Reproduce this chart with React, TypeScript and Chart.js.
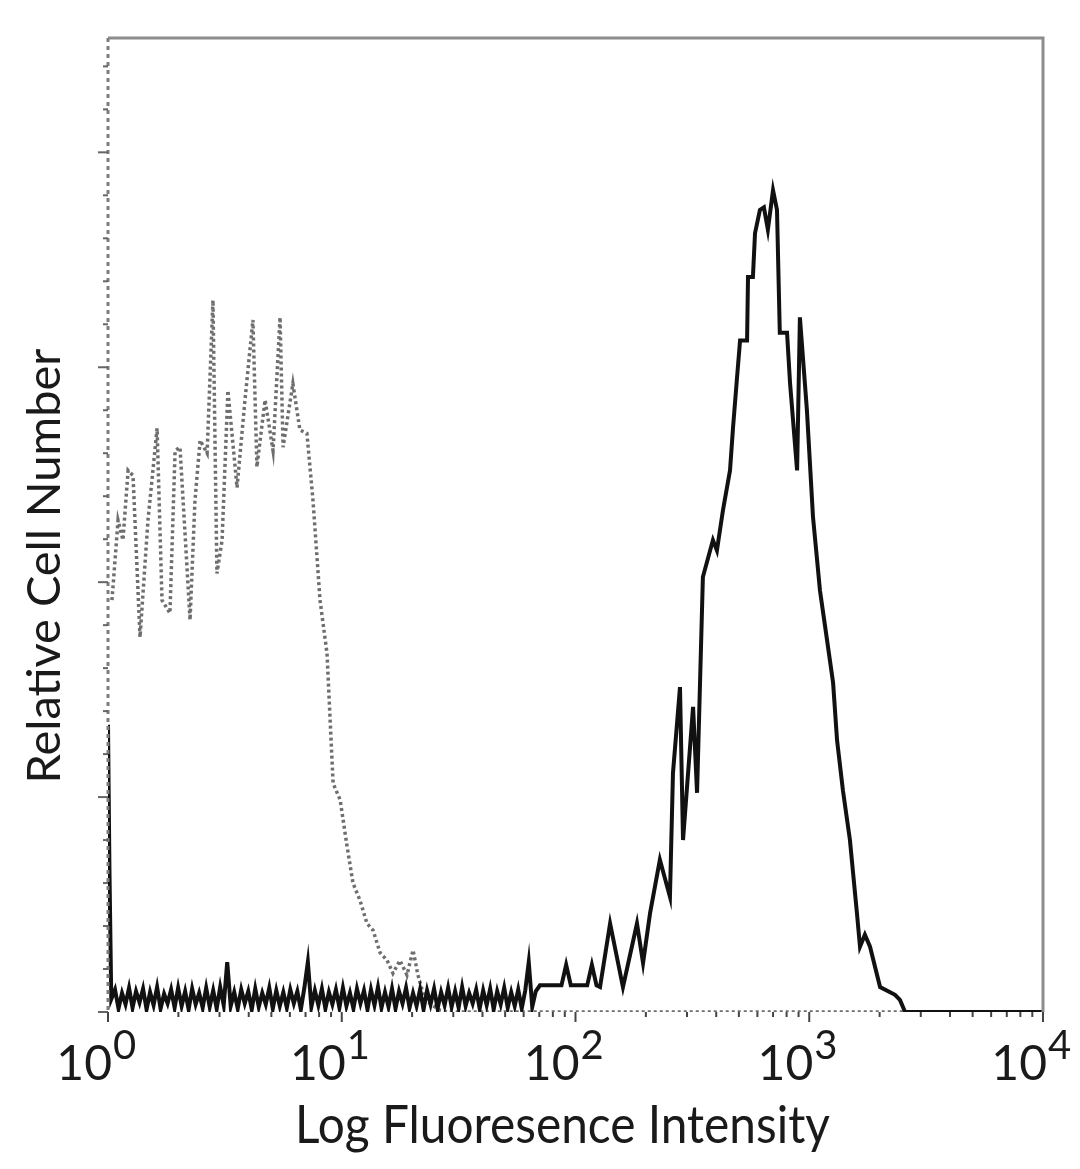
import React, { useEffect, useRef } from "react";
import { Chart, registerables } from "chart.js";

Chart.register(...registerables);

// Stained sample histogram (solid black): x in decades (log10 of intensity), y = cell count
const stainedDecades = [
  0, 0.006, 0.014,
  0.03, 0.045, 0.06, 0.075, 0.09, 0.105, 0.12, 0.135, 0.15, 0.165,
  0.18, 0.195, 0.21, 0.225, 0.24, 0.255, 0.27, 0.285, 0.3, 0.315,
  0.33, 0.345, 0.36, 0.375, 0.39, 0.405, 0.42, 0.435, 0.45, 0.465,
  0.48, 0.495, 0.51, 0.525, 0.54, 0.555, 0.57, 0.585, 0.6, 0.615,
  0.63, 0.645, 0.66, 0.675, 0.69, 0.705, 0.72, 0.735, 0.75, 0.765,
  0.78, 0.795, 0.81, 0.825, 0.84, 0.855, 0.87, 0.885, 0.9, 0.915,
  0.93, 0.945, 0.96, 0.975, 0.99, 1.005, 1.02, 1.035, 1.05, 1.065,
  1.08, 1.095, 1.11, 1.125, 1.14, 1.155, 1.17, 1.185, 1.2, 1.215,
  1.23, 1.245, 1.26, 1.275, 1.29, 1.305, 1.32, 1.335, 1.35, 1.365,
  1.38, 1.395, 1.41, 1.425, 1.44, 1.455, 1.47, 1.485, 1.5, 1.515,
  1.53, 1.545, 1.56, 1.575, 1.59, 1.605, 1.62, 1.635, 1.65, 1.665,
  1.68, 1.695, 1.71, 1.725, 1.74, 1.755, 1.77, 1.785, 1.8, 1.815,
  1.83,
  1.848, 1.94, 1.96, 1.98, 2.05, 2.07, 2.09, 2.105, 2.148, 2.203,
  2.263, 2.289, 2.319, 2.361, 2.404, 2.417, 2.447, 2.46, 2.503, 2.52, 2.545, 2.588, 2.605,
  2.631, 2.661, 2.674, 2.691, 2.704, 2.734, 2.738, 2.759, 2.768, 2.789, 2.806, 2.823, 2.845,
  2.862, 2.874, 2.905, 2.918, 2.948, 2.96, 2.99, 3.016, 3.046, 3.067, 3.102, 3.119, 3.144,
  3.174, 3.204, 3.217, 3.238, 3.26, 3.303, 3.367, 3.388, 3.41, 4.0,
];
const stainedCounts = [
  33.4, 16.9, 1.5,
  2.6, 0.4, 2.2, 0.9, 2.8, 0.5, 2.4, 1.1, 2.7, 0.3,
  2.3, 0.8, 2.9, 0.4, 2.1, 1.0, 2.6, 0.5, 2.8, 0.7,
  2.4, 0.3, 2.7, 0.9, 2.2, 0.5, 2.8, 0.6, 2.5, 0.4,
  2.9, 0.8, 5.8, 0.7, 2.3, 0.4, 2.6, 1.0, 2.4, 0.3,
  2.7, 0.6, 2.2, 0.9, 2.8, 0.4, 2.5, 0.7, 2.3, 0.5,
  2.6, 1.0, 2.4, 0.3, 2.8, 5.8, 0.6, 2.5, 0.8, 2.7,
  0.4, 2.3, 0.9, 2.6, 0.5, 2.8, 0.7, 2.2, 0.4, 2.7,
  1.0, 2.5, 0.3, 2.6, 0.8, 2.9, 0.5, 2.3, 0.6, 2.7,
  0.4, 2.4, 1.0, 2.8, 0.5, 2.2, 0.7, 2.6, 0.3, 2.5,
  0.9, 2.7, 0.4, 2.3, 0.8, 2.8, 0.6, 2.4, 0.5, 2.9,
  0.7, 2.2, 1.0, 2.6, 0.4, 2.5, 0.8, 2.7, 0.3, 2.4,
  0.9, 2.8, 0.5, 2.3, 0.7, 2.6, 0.4, 2.5, 5.8, 0.6,
  2.4,
  3.1, 3.1, 5.5, 3.1, 3.1, 5.5, 3.1, 2.9, 10.3, 2.9,
  10.3, 5.7, 11.5, 17.7, 13.4, 27.8, 37.8, 20, 35.5, 25.5, 50.6, 54.9, 53.7,
  58.4, 63, 68, 73.8, 78.1, 78.1, 85.5, 85.5, 90.6, 93.3, 93.6, 91, 95.6,
  93.3, 79, 79, 73.1, 63, 80.8, 70, 57.6, 49, 45, 38.3, 31.6, 25.8,
  20, 11.5, 7.6, 9, 7.6, 2.9, 2.0, 1.4, 0, 0,
];

// Isotype control histogram (grey dotted)
const isotypeDecades = [
  0.017, 0.043, 0.064, 0.086, 0.107, 0.137, 0.171, 0.21, 0.231, 0.265, 0.287, 0.308, 0.351,
  0.372, 0.394, 0.424, 0.449, 0.466, 0.488, 0.513, 0.552, 0.586, 0.62, 0.637, 0.672, 0.706,
  0.736, 0.749, 0.791, 0.821, 0.851, 0.877, 0.907, 0.937, 0.963, 0.993, 1.022, 1.048, 1.078,
  1.108, 1.134, 1.164, 1.194, 1.219, 1.249, 1.279, 1.305, 1.326, 1.356, 1.42, 1.45, 4.0,
];
const isotypeCounts = [
  47.9, 57.2, 54.9, 63, 62.4, 43.6, 57.2, 67.9, 47.9, 46.4, 65.3, 65.7, 45.6,
  59.5, 66.5, 65, 82.8, 51, 54.9, 72.3, 61, 71.2, 80.5, 63.4, 71.2, 65.3,
  80.8, 65.7, 73.1, 67.7, 67.3, 59.5, 47.9, 41.7, 26.6, 24.7, 19.4, 15, 13,
  10.3, 9.5, 6.9, 6, 4.5, 6, 4.3, 7.2, 4.3, 1.4, 0.2, 0, 0,
];

const xMajorExponents = [0, 1, 2, 3, 4];
const xMinorMultipliers = [2, 3, 4, 5, 6, 7, 8, 9];
const yTickStep = 5;
const yMajorStep = 25;
const yMax = 113.3;
const xTitle = "Log Fluoresence Intensity";
const yTitle = "Relative Cell Number";

const FONT = "Lato, 'Open Sans', 'DejaVu Sans', sans-serif";

const decorPlugin = {
  id: "decor",
  afterDraw(chart: any) {
    const { ctx, chartArea } = chart;
    const xs = chart.scales.x;
    const ys = chart.scales.y;
    const { left, right, top, bottom } = chartArea;
    ctx.save();
    // top & right frame
    ctx.strokeStyle = "#8c8c8c";
    ctx.lineWidth = 3;
    ctx.setLineDash([]);
    ctx.beginPath();
    ctx.moveTo(left, top);
    ctx.lineTo(right, top);
    ctx.lineTo(right, bottom);
    ctx.stroke();

    // left axis (dotted grey)
    ctx.strokeStyle = "#7d7d7d";
    ctx.lineWidth = 3;
    ctx.setLineDash([4, 4]);
    ctx.beginPath();
    ctx.moveTo(left, top);
    ctx.lineTo(left, bottom);
    ctx.stroke();
    ctx.setLineDash([]);

    // y ticks
    ctx.strokeStyle = "#666";
    ctx.lineWidth = 2;
    for (let v = 0; v <= yMax; v += yTickStep) {
      const py = ys.getPixelForValue(v);
      const len = v % yMajorStep === 0 ? 10 : 5;
      ctx.beginPath();
      ctx.moveTo(left - len, py);
      ctx.lineTo(left, py);
      ctx.stroke();
    }
    // x ticks
    ctx.strokeStyle = "#444";
    for (const e of xMajorExponents) {
      const px = xs.getPixelForValue(Math.pow(10, e));
      ctx.beginPath();
      ctx.moveTo(px, bottom);
      ctx.lineTo(px, bottom + 10);
      ctx.stroke();
      if (e < 4) {
        for (const m of xMinorMultipliers) {
          const mx = xs.getPixelForValue(m * Math.pow(10, e));
          ctx.beginPath();
          ctx.moveTo(mx, bottom);
          ctx.lineTo(mx, bottom + 5);
          ctx.stroke();
        }
      }
    }

    // x tick labels 10^n
    ctx.fillStyle = "#1a1a1a";
    ctx.textBaseline = "alphabetic";
    for (const e of xMajorExponents) {
      const px = xs.getPixelForValue(Math.pow(10, e));
      ctx.font = `48px ${FONT}`;
      ctx.textAlign = "right";
      ctx.fillText("10", px + 4, bottom + 68);
      ctx.font = `40px ${FONT}`;
      ctx.textAlign = "left";
      ctx.fillText(String(e), px + 5, bottom + 47);
    }

    // x title
    ctx.font = `52px ${FONT}`;
    ctx.textAlign = "center";
    ctx.fillText(xTitle, (left + right) / 2 - 13, 1143, 535);

    // y title
    ctx.save();
    ctx.translate(60, 566);
    ctx.rotate(-Math.PI / 2);
    ctx.font = `47px ${FONT}`;
    ctx.textAlign = "center";
    ctx.fillText(yTitle, 0, 0, 452);
    ctx.restore();

    ctx.restore();
  },
};

export default function App() {
  const canvasRef = useRef<HTMLCanvasElement | null>(null);

  useEffect(() => {
    const canvas = canvasRef.current;
    if (!canvas) return;
    const stained = stainedDecades.map((d, i) => ({ x: Math.pow(10, d), y: stainedCounts[i] }));
    const isotype = isotypeDecades.map((d, i) => ({ x: Math.pow(10, d), y: isotypeCounts[i] }));
    const chart = new Chart(canvas, {
      type: "line",
      data: {
        datasets: [
          {
            label: "Stained",
            data: stained,
            borderColor: "#111",
            borderWidth: 4,
            pointRadius: 0,
            tension: 0,
            fill: false,
          },
          {
            label: "Isotype control",
            data: isotype,
            borderColor: "#6e6e6e",
            borderWidth: 3.5,
            borderDash: [3, 3],
            pointRadius: 0,
            tension: 0,
            fill: false,
          },
        ],
      },
      options: {
        responsive: false,
        animation: false,
        devicePixelRatio: 1,
        layout: { padding: { left: 108, top: 38, right: 37, bottom: 157 } },
        plugins: { legend: { display: false }, tooltip: { enabled: false } },
        scales: {
          x: {
            type: "logarithmic",
            min: 1,
            max: 10000,
            grid: { display: false, drawTicks: false },
            ticks: { display: false },
            border: { display: false },
          },
          y: {
            type: "linear",
            min: 0,
            max: yMax,
            grid: { display: false, drawTicks: false },
            ticks: { display: false },
            border: { display: false },
          },
        },
      },
      plugins: [decorPlugin],
    });
    return () => chart.destroy();
  }, []);

  return (
    <div style={{ position: "absolute", left: 0, top: 0, width: 1080, height: 1169, background: "#fff" }}>
      <canvas ref={canvasRef} width={1080} height={1169} style={{ width: 1080, height: 1169 }} />
    </div>
  );
}
